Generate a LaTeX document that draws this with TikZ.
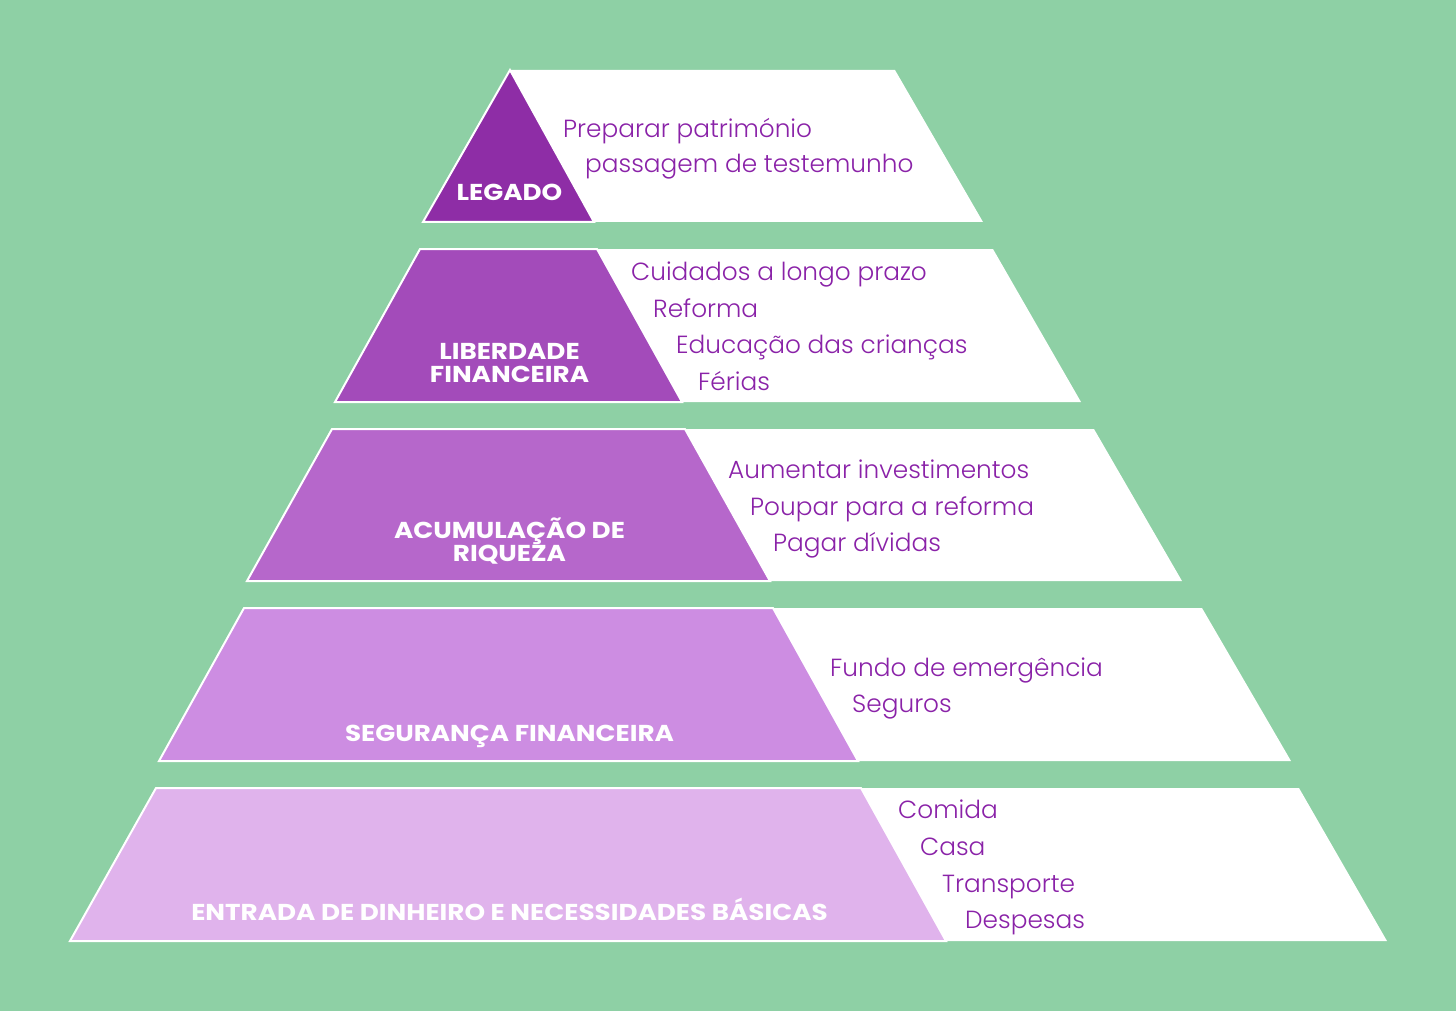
\documentclass[tikz,border=0pt]{standalone}
\usepackage{fontspec}
\setmainfont{Poppins}[UprightFont=* Light,BoldFont=* Bold,BoldFeatures={FakeStretch=1.14}]
\definecolor{bg}{HTML}{8ED0A5}
\definecolor{ink}{HTML}{8A22A8}
\definecolor{tierA}{HTML}{8E2DA6}
\definecolor{tierB}{HTML}{A34BBA}
\definecolor{tierC}{HTML}{B667CB}
\definecolor{tierD}{HTML}{CD8DE2}
\definecolor{tierE}{HTML}{E0B3EC}

\begin{document}
\begin{tikzpicture}[x=1pt,y=-1pt,
    band/.style={fill=white},
    tier/.style={draw=white,line width=2pt,line join=miter},
    lbl/.style={text=white,font=\fontsize{23}{23}\selectfont\bfseries,align=center,inner sep=0pt,anchor=base},
    item/.style={text=ink,font=\fontsize{24.8}{24.8}\selectfont,inner sep=0pt,anchor=base west}]
    \fill[bg](0,0)rectangle(1456,1011);

    \fill[band](510,70)--(895,70)--(983,222)--(423,222)--cycle;
    \filldraw[tier,fill=tierA](510,70)--(594,222)--(423,222)--cycle;
    \node[lbl](legado)at(509.5,201){LEGADO};
    \node[item](patrimonio)at(563,138){Preparar património};
    \node[item](passagem)at(585,173){passagem de testemunho};

    \fill[band](420,249)--(993,249)--(1081,402)--(335,402)--cycle;
    \filldraw[tier,fill=tierB](420,249)--(597,249)--(682,402)--(335,402)--cycle;
    \node[lbl](liberdade)at(509.5,382){LIBERDADE\\FINANCEIRA};
    \node[item](cuidados)at(631,280){Cuidados a longo prazo};
    \node[item](reforma)at(653,317){Reforma};
    \node[item](educacao)at(676,353){Educação das crianças};
    \node[item](ferias)at(698,390){Férias};

    \fill[band](332,429)--(1094,429)--(1182,581)--(247,581)--cycle;
    \filldraw[tier,fill=tierC](332,429)--(685,429)--(770,581)--(247,581)--cycle;
    \node[lbl](acumulacao)at(509.5,561){ACUMULAÇÃO DE\\RIQUEZA};
    \node[item](aumentar)at(728,478){Aumentar investimentos};
    \node[item](poupar)at(750,515){Poupar para a reforma};
    \node[item](pagar)at(773,551){Pagar dívidas};

    \fill[band](244,608)--(1202,608)--(1291,761)--(159,761)--cycle;
    \filldraw[tier,fill=tierD](244,608)--(773,608)--(858,761)--(159,761)--cycle;
    \node[lbl](seguranca)at(509.5,741){SEGURANÇA FINANCEIRA};
    \node[item](fundo)at(830,676){Fundo de emergência};
    \node[item](seguros)at(852,712){Seguros};

    \fill[band](156,788)--(1299,788)--(1387,941)--(70,941)--cycle;
    \filldraw[tier,fill=tierE](156,788)--(861,788)--(946,941)--(70,941)--cycle;
    \node[lbl](entrada)at(509.5,920){ENTRADA DE DINHEIRO E NECESSIDADES BÁSICAS};
    \node[item](comida)at(898,818){Comida};
    \node[item](casa)at(920,855){Casa};
    \node[item](transporte)at(942,892){Transporte};
    \node[item](despesas)at(965,928){Despesas};
\end{tikzpicture}
\end{document}
